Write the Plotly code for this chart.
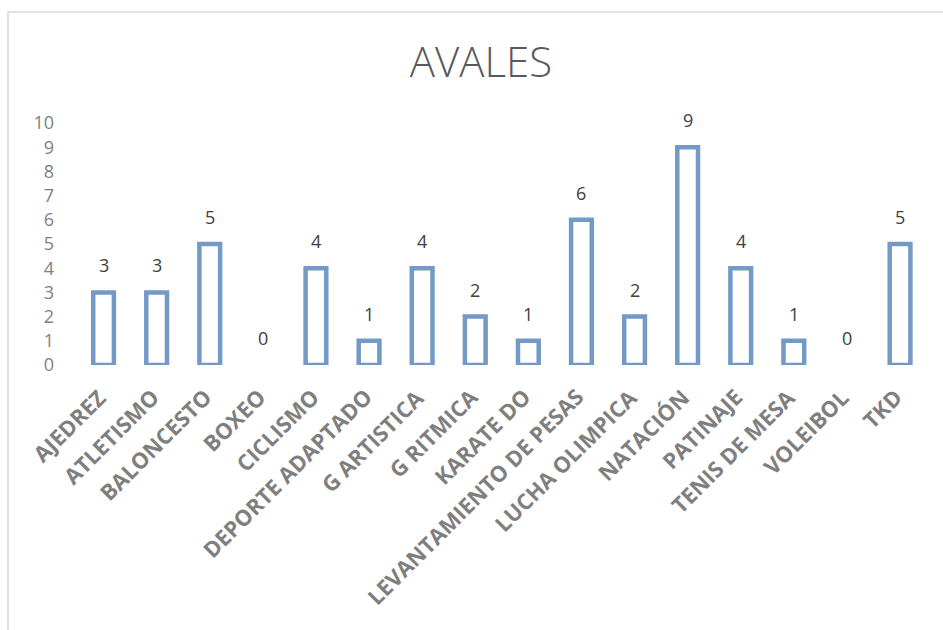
import plotly.graph_objects as go

categories = ["AJEDREZ", "ATLETISMO", "BALONCESTO", "BOXEO", "CICLISMO",
              "DEPORTE ADAPTADO", "G ARTISTICA", "G RITMICA", "KARATE DO",
              "LEVANTAMIENTO DE PESAS", "LUCHA OLIMPICA", "NATACIÓN",
              "PATINAJE", "TENIS DE MESA", "VOLEIBOL", "TKD"]
values = [3, 3, 5, 0, 4, 1, 4, 2, 1, 6, 2, 9, 4, 1, 0, 5]
y_ticks = list(range(0, 11))

W, H = 943, 630
L, R, T, B = 77, 0, 123, 265
STEP = 53.1

fig = go.Figure()
fig.add_trace(go.Bar(
    x=categories, y=values, width=0.39,
    marker=dict(color="white",
                line=dict(color="#7399C6", width=[4.5 if v > 0 else 0 for v in values])),
    hoverinfo="skip",
))

for c, v in zip(categories, values):
    fig.add_annotation(x=c, y=v, text=str(v), showarrow=False,
                       yanchor="middle", yshift=27,
                       font=dict(family="Open Sans, sans-serif", size=18, color="#404040"))

for c in categories:
    fig.add_annotation(x=c, y=0, text=c, showarrow=False, textangle=-45,
                       xanchor="right", yanchor="top", xshift=11, yshift=-14,
                       font=dict(family="Open Sans, sans-serif", size=22, color="#7f7f7f", weight="bold"))

pw = W - L - R
ph = H - T - B
fig.add_shape(type="rect", xref="paper", yref="paper",
              x0=(8 - L) / pw, x1=1.05, y0=-2, y1=(H - B - 12) / ph,
              line=dict(color="#d9d9d9", width=1.5), fillcolor="rgba(0,0,0,0)", layer="below")

fig.update_layout(
    width=W, height=H,
    margin=dict(l=L, r=R, t=T, b=B, autoexpand=False),
    paper_bgcolor="white", plot_bgcolor="white",
    showlegend=False,
    title=dict(text="AVALES", x=481 / W, xanchor="center",
               y=1 - 62 / H, yanchor="middle",
               font=dict(family="Open Sans, sans-serif", size=42, color="#595959", weight=300)),
    xaxis=dict(range=[-0.5, (W - L) / STEP - 0.5], showgrid=False, showline=False,
               zeroline=False, showticklabels=False, ticks=""),
    yaxis=dict(range=[0, 10], tickvals=y_ticks, showgrid=False, showline=False,
               zeroline=False, ticks="", ticklabelstandoff=22,
               tickfont=dict(family="Open Sans, sans-serif", size=18, color="#7f7f7f")),
)

fig.write_html("out.html", config={"displayModeBar": False},
               post_script="document.body.style.margin='0';document.body.style.overflow='hidden';")
